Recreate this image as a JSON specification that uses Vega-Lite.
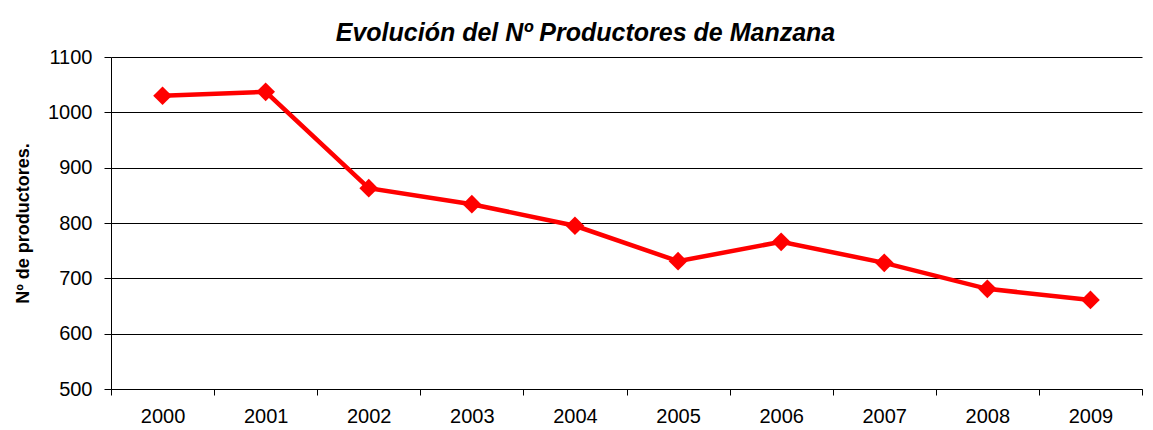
{
  "$schema": "https://vega.github.io/schema/vega-lite/v6.json",
  "autosize": {"type": "none"},
  "width": 1031,
  "height": 332,
  "padding": {"left": 111, "top": 57, "right": 11, "bottom": 41},
  "background": "white",
  "title": {
    "text": "Evolución del Nº Productores de Manzana",
    "font": "Liberation Sans",
    "fontSize": 25,
    "fontWeight": "bold",
    "fontStyle": "italic",
    "color": "#000000",
    "anchor": "middle",
    "dx": -41,
    "offset": 1
  },
  "config": {
    "view": {"stroke": null},
    "axis": {
      "labelFont": "Liberation Sans",
      "titleFont": "Liberation Sans",
      "labelColor": "#000000",
      "titleColor": "#000000",
      "domainColor": "#000000",
      "tickColor": "#000000",
      "gridColor": "#000000",
      "gridOpacity": 1,
      "domainWidth": 1,
      "tickWidth": 1,
      "gridWidth": 1
    }
  },
  "data": {
    "values": [
      {"year": "2000", "productores": 1030},
      {"year": "2001", "productores": 1037},
      {"year": "2002", "productores": 863},
      {"year": "2003", "productores": 834},
      {"year": "2004", "productores": 795},
      {"year": "2005", "productores": 731},
      {"year": "2006", "productores": 766},
      {"year": "2007", "productores": 728},
      {"year": "2008", "productores": 681},
      {"year": "2009", "productores": 661}
    ]
  },
  "encoding": {
    "x": {
      "field": "year",
      "type": "ordinal",
      "scale": {"type": "band", "paddingInner": 0, "paddingOuter": 0},
      "axis": {
        "title": null,
        "labelAngle": 0,
        "labelFontSize": 20,
        "labelPadding": 11,
        "tickBand": "extent",
        "tickSize": 6,
        "domain": true,
        "grid": false
      }
    },
    "y": {
      "field": "productores",
      "type": "quantitative",
      "scale": {"domain": [500, 1100], "nice": false, "zero": false},
      "axis": {
        "title": "Nº de productores.",
        "titleFontSize": 18,
        "titleFontWeight": "bold",
        "titlePadding": 15,
        "format": "d",
        "values": [500, 600, 700, 800, 900, 1000, 1100],
        "labelFontSize": 20,
        "labelPadding": 12,
        "tickSize": 7,
        "grid": true
      }
    }
  },
  "layer": [
    {
      "mark": {"type": "line", "color": "#FF0000", "strokeWidth": 4.5}
    },
    {
      "mark": {"type": "point", "shape": "diamond", "filled": true, "color": "#FF0000", "size": 350, "opacity": 1}
    }
  ]
}
